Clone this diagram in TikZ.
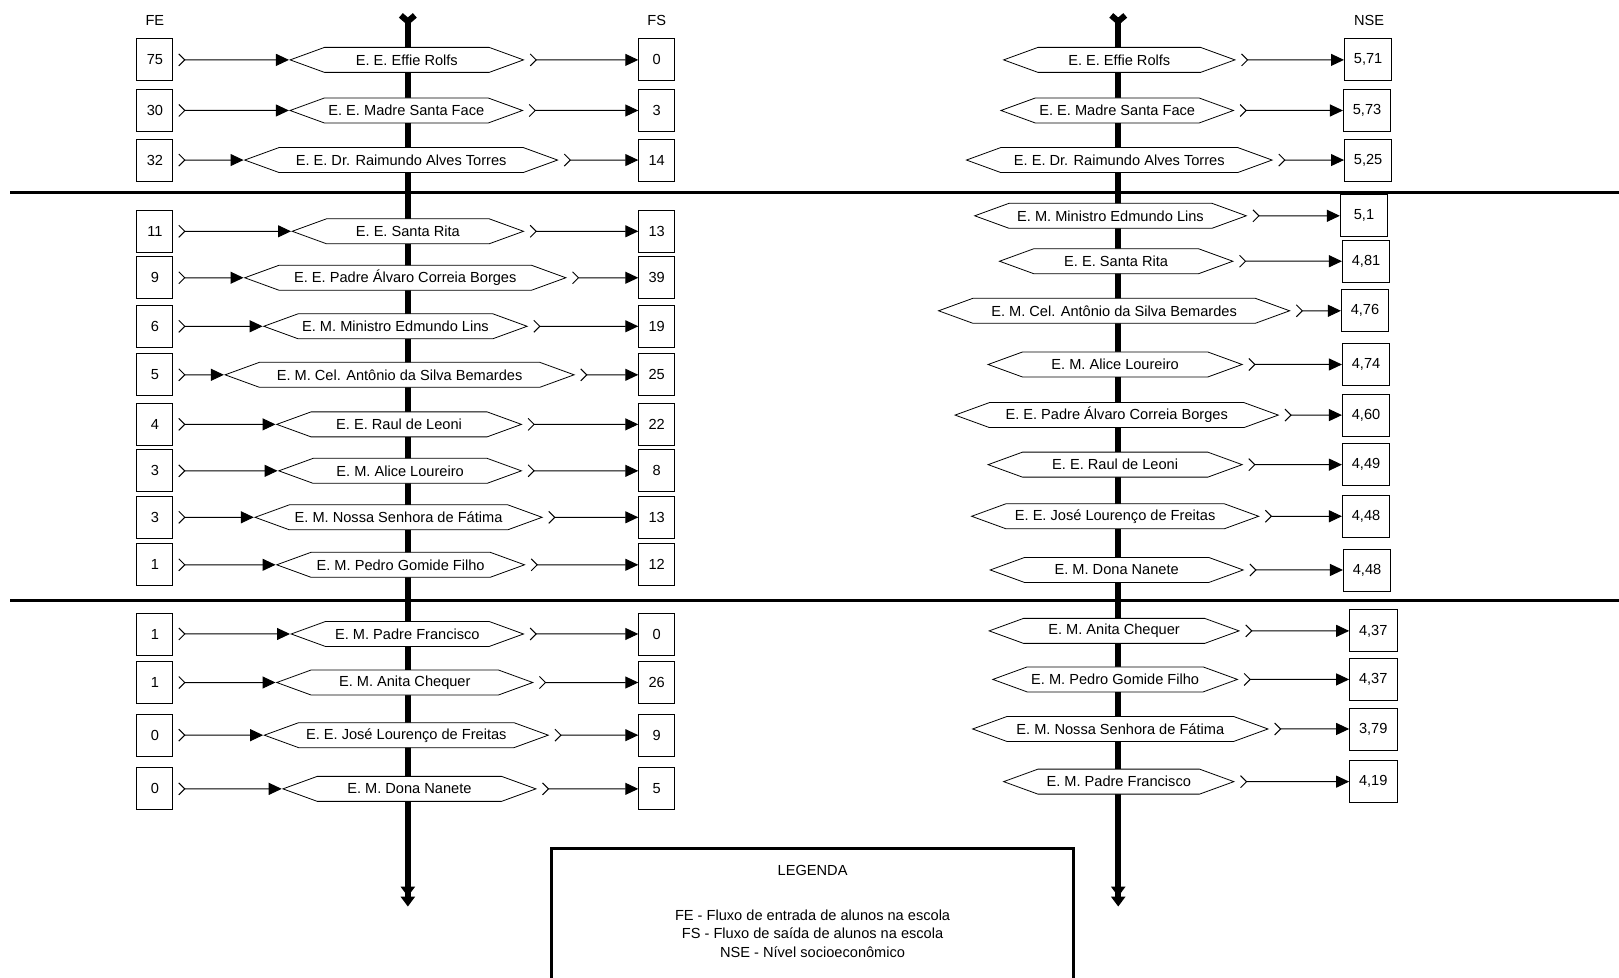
\documentclass[tikz,border=0pt]{standalone}
\usepackage{fontspec}
\setmainfont{Liberation Sans}
\usetikzlibrary{arrows.meta,shapes.symbols}
\newcommand{\unid}{0.51626pt}
\tikzset{
  escola/.style={draw, fill=white, shape=signal, signal to=east and west, signal pointer angle=40, minimum height=12.5pt, inner xsep=2pt, inner ysep=0pt},
  valor/.style={draw, minimum width=18pt, minimum height=21pt, inner sep=0pt},
  fluxo/.style={line width=0.5pt, {Straight Barb[reversed,length=3pt,width=6pt]}-{Triangle[length=6.5pt,width=6pt]}, shorten <=2.5pt},
  eixo/.style={line width=3pt, {Straight Barb[reversed,length=3pt,width=7pt]}-{Triangle[length=5pt,width=7pt]Triangle[length=5pt,width=7pt]}},
  divisa/.style={line width=1.5pt}
}
\begin{document}
\begin{tikzpicture}[x=\unid, y=-\unid, font=\fontsize{7.3}{9.3}\selectfont]
        \useasboundingbox (0,0) rectangle (1568,947);
        \coordinate (topoE) at (395,12);
        \coordinate (baseE) at (395,878);
        \coordinate (topoD) at (1083,12);
        \coordinate (baseD) at (1083,878);
        \draw[eixo] (topoE) -- (baseE);
        \draw[eixo] (topoD) -- (baseD);
        \coordinate (div1a) at (10,186);
        \coordinate (div1b) at (1568,186);
        \coordinate (div2a) at (10,582);
        \coordinate (div2b) at (1568,582);
        \draw[divisa] (div1a) -- (div1b);
        \draw[divisa] (div2a) -- (div2b);
        \node (fe) at (150,20) {FE};
        \node (fs) at (636,20) {FS};
        \node (nse) at (1326,20) {NSE};
        \foreach \y/\fe/\nome/\fs/\a/\b [count=\i] in {
            58/75/{E. E. Effie Rolfs}/0/281/507,
            107/30/{E. E. Madre Santa Face}/3/282/505,
            155/32/{E. E. Dr. Raimundo Alves Torres}/14/237/540,
            224/11/{E. E. Santa Rita}/13/283/507,
            269/9/{E. E. Padre Álvaro Correia Borges}/39/237/548,
            316/6/{E. M. Ministro Edmundo Lins}/19/258/508,
            363/5/{E. M. Cel. Antônio da Silva Bemardes}/25/218/556,
            411/4/{E. E. Raul de Leoni}/22/268/505,
            456/3/{E. M. Alice Loureiro}/8/270/505,
            501/3/{E. M. Nossa Senhora de Fátima}/13/247/525,
            547/1/{E. M. Pedro Gomide Filho}/12/268/508,
            614/1/{E. M. Padre Francisco}/0/282/507,
            661/1/{E. M. Anita Chequer}/26/268/516,
            712/0/{E. E. José Lourenço de Freitas}/9/256/531,
            764/0/{E. M. Dona Nanete}/5/274/519} {
            \node[valor] (fe\i) at (150,\y) {\fe};
            \node[escola, minimum width={(\b-\a)*\unid}] (esc\i) at ({(\a+\b)/2},\y) {\nome};
            \node[valor] (fs\i) at (636,\y) {\fs};
            \draw[fluxo] (fe\i) -- (esc\i);
            \draw[fluxo] (esc\i) -- (fs\i);
        }
        \foreach \y/\nome/\nse/\a/\b/\xn [count=\i] in {
            58/{E. E. Effie Rolfs}/{5,71}/972/1196/1325,
            107/{E. E. Madre Santa Face}/{5,73}/970/1194/1324,
            155/{E. E. Dr. Raimundo Alves Torres}/{5,25}/936/1232/1325,
            209/{E. M. Ministro Edmundo Lins}/{5,1}/944/1207/1321,
            253/{E. E. Santa Rita}/{4,81}/968/1194/1323,
            301/{E. M. Cel. Antônio da Silva Bemardes}/{4,76}/909/1249/1322,
            353/{E. M. Alice Loureiro}/{4,74}/957/1203/1323,
            402/{E. E. Padre Álvaro Correia Borges}/{4,60}/925/1238/1323,
            450/{E. E. Raul de Leoni}/{4,49}/957/1203/1323,
            500/{E. E. José Lourenço de Freitas}/{4,48}/941/1219/1323,
            552/{E. M. Dona Nanete}/{4,48}/959/1204/1324,
            611/{E. M. Anita Chequer}/{4,37}/958/1200/1330,
            658/{E. M. Pedro Gomide Filho}/{4,37}/962/1198/1330,
            706/{E. M. Nossa Senhora de Fátima}/{3,79}/942/1228/1330,
            757/{E. M. Padre Francisco}/{4,19}/972/1195/1330} {
            \node[escola, minimum width={(\b-\a)*\unid}] (nesc\i) at ({(\a+\b)/2},\y) {\nome};
            \node[valor, minimum width=23.7pt] (nse\i) at (\xn,\y) {\nse};
            \draw[fluxo] (nesc\i) -- (nse\i);
        }
        \node[draw, line width=1.5pt, minimum width={506*\unid}, minimum height={180*\unid}, anchor=north] (leg) at (787,820) {};
        \node (legtit) at (787,843) {LEGENDA};
        \node[align=center] (legtxt) at (787,904) {FE - Fluxo de entrada de alunos na escola\\FS - Fluxo de saída de alunos na escola\\NSE - Nível socioeconômico};
\end{tikzpicture}
\end{document}
